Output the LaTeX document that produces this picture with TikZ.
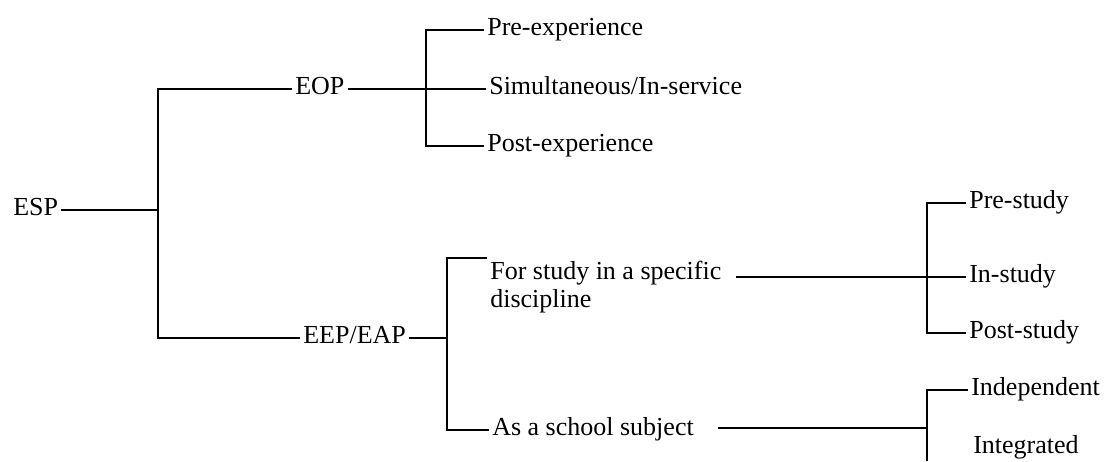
\documentclass[tikz,border=0pt]{standalone}
\usepackage{fontspec}
\setmainfont{Liberation Serif}

\begin{document}
\begin{tikzpicture}[x=0.5pt, y=-0.5pt, line width=1.3pt,
	lbl/.style={anchor=west, inner sep=1pt, text height=1.5ex, text depth=0.25ex},
	every node/.style={font=\fontsize{13pt}{14pt}\selectfont}]
	
	\useasboundingbox (0,0) rectangle (1106,461);

	\node[lbl] (esp) at (10,210) {ESP};
	\node[lbl] (eop) at (292,89) {EOP};
	\node[lbl] (eep) at (300,338) {EEP/EAP};
	
	\node[lbl] (pre) at (484,30) {Pre-experience};
	\node[lbl] (sim) at (486,89) {Simultaneous/In-service};
	\node[lbl] (post) at (484,146) {Post-experience};
	
	\node[anchor=north west, inner sep=1pt, align=left] (disc) at (487,258)
		{For study in a specific\\discipline};
	\node[lbl] (school) at (489,430) {As a school subject};
	
	\node[lbl] (prestudy) at (966,203) {Pre-study};
	\node[lbl] (instudy) at (966,277) {In-study};
	\node[lbl] (poststudy) at (966,333) {Post-study};
	
	\node[lbl] (indep) at (968,390) {Independent};
	\node[lbl] (integ) at (970,448) {Integrated};

	\coordinate (j1) at (158,210);
	\coordinate (j2) at (426,89);
	\coordinate (j3) at (447,338);
	\coordinate (j4) at (927,277);
	\coordinate (j5) at (927,428);
	\coordinate (cut) at (927,461);
	
	\draw (esp.east) -- (j1);
	\draw (eop.west) -| (j1) |- (eep.west);
	
	\draw (pre.west) -| (j2) |- (post.west);
	\draw (eop.east) -- (sim.west);
	
	\draw (disc.north west) -| (j3) |- (school.west);
	\draw (eep.east) -- (j3);
	
	\draw (prestudy.west) -| (j4) |- (poststudy.west);
	\path (disc.east |- instudy.west) ++(11,0) coordinate (dstart);
	\draw (dstart) -- (instudy.west);
	
	\draw (indep.west) -| (j5) -- (cut);
	\path (school.east |- j5) ++(21,0) coordinate (sstart);
	\draw (sstart) -- (j5);
	
\end{tikzpicture}
\end{document}
